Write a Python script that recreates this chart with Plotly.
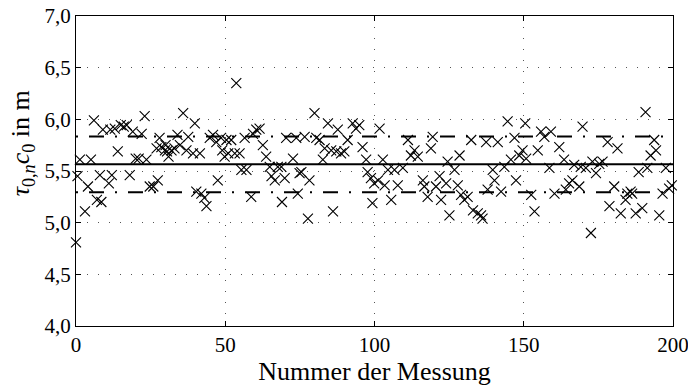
import plotly.graph_objects as go

meas_x = [0.0, 0.5, 1.3, 3.0, 4.0, 5.0, 6.0, 7.0, 8.0, 8.5, 9.0, 11.0, 11.5, 12.0, 13.0, 14.0,
          15.0, 16.0, 17.0, 18.0, 19.0, 20.0, 21.0, 22.0, 23.0, 23.6, 24.7,
          25.9, 27.0, 27.4, 28.0, 28.6, 29.8, 30.0, 30.5, 31.0, 32.0, 33.0, 34.0, 34.8, 35.9,
          37.0, 37.6, 39.2, 39.8, 40.3, 41.5, 42.0, 43.0, 43.7, 44.8, 45.9, 47.0, 47.5, 48.6,
          49.0, 49.8,
          50.4, 51.0, 52.0, 53.2, 53.7, 54.8, 55.4, 56.5, 57.1, 58.7, 59.3, 60.4, 61.5, 62.6,
          63.7, 64.9, 65.5, 66.6, 67.6, 68.8, 69.0, 69.9, 70.4, 72.7, 73.8, 74.3, 74.9,
          75.5, 76.6, 77.7, 78.2, 79.9, 80.5, 81.6, 82.7, 83.3, 84.4, 85.5, 86.1, 87.2, 87.7,
          88.8, 89.9, 91.0, 92.7, 93.8, 94.9, 96.0, 97.2, 97.7, 98.8, 99.3, 99.9,
          101.2, 101.7, 102.8, 103.4, 104.5, 105.6, 106.7, 107.8, 109.5, 111.2, 112.2, 113.4,
          114.5, 116.2, 116.7, 117.8, 118.9, 119.5, 120.6, 121.8, 122.3, 124.0, 124.5, 125.1,
          126.8, 127.9, 128.5, 129.0, 130.1, 131.2, 132.4, 133.0, 134.6, 135.7, 136.2, 137.4,
          137.9, 139.6, 140.2, 141.3, 142.4, 143.5, 144.6, 145.7, 146.9, 147.4, 148.5, 149.6,
          150.5, 150.8, 152.5, 153.6, 154.7, 155.8, 156.9, 158.6, 159.1, 160.3, 161.9, 163.5,
          164.1, 165.2, 166.3, 166.9, 168.6, 169.1, 169.7, 170.8, 172.5, 173.0, 174.2, 175.3,
          176.4, 178.1, 178.7, 180.3, 181.4, 182.5, 184.1, 184.7, 185.8, 186.3, 187.5, 188.5,
          189.7, 190.8, 191.4, 192.5, 193.7, 194.3, 195.4, 196.5, 197.6, 198.7, 199.6]
meas_y = [4.81, 5.45, 5.61, 5.11, 5.35, 5.61, 5.99, 5.22, 5.46, 5.20, 5.90, 5.38, 5.90, 5.46, 5.91, 5.69,
          5.945, 5.93, 5.945, 5.46, 5.88, 5.62, 5.62, 5.86, 6.03, 5.61, 5.35,
          5.35, 5.72, 5.41, 5.82, 5.73, 5.70, 5.75, 5.69, 5.64, 5.70, 5.72, 5.85, 5.75, 6.06,
          5.70, 5.83, 5.67, 5.96, 5.30, 5.67, 5.28, 5.24, 5.16, 5.82, 5.85, 5.78, 5.41, 5.82,
          5.70, 5.64,
          5.80, 5.67, 5.80, 5.67, 6.35, 5.67, 5.51, 5.82, 5.51, 5.25, 5.86, 5.90, 5.91, 5.75,
          5.64, 5.54, 5.45, 5.41, 5.54, 5.54, 5.20, 5.43, 5.82, 5.62, 5.82, 5.28, 5.48,
          5.49, 5.83, 5.04, 5.41, 6.06, 5.82, 5.80, 5.61, 5.72, 5.96, 5.70, 5.11, 5.69, 5.90,
          5.67, 5.69, 5.80, 5.96, 5.91, 5.945, 5.73, 5.61, 5.49, 5.43, 5.19, 5.38,
          5.41, 5.91, 5.61, 5.36, 5.51, 5.22, 5.51, 5.36, 5.53, 5.80, 5.65, 5.70,
          5.64, 5.41, 5.35, 5.25, 5.72, 5.83, 5.35, 5.45, 5.22, 5.38, 5.59, 5.07,
          5.51, 5.36, 5.65, 5.27, 5.22, 5.25, 5.80, 5.12, 5.09, 5.07, 5.04, 5.78,
          5.32, 5.51, 5.41, 5.78, 5.30, 5.54, 5.98, 5.61, 5.82, 5.41, 5.65, 5.70,
          5.96, 5.62, 5.27, 5.11, 5.70, 5.88, 5.83, 5.53, 5.88, 5.28, 5.73, 5.61,
          5.32, 5.38, 5.41, 5.56, 5.35, 5.54, 5.93, 5.53, 4.90, 5.59, 5.48, 5.57,
          5.59, 5.78, 5.16, 5.35, 5.72, 5.09, 5.22, 5.28, 5.30, 5.28, 5.09, 5.49,
          5.14, 6.07, 5.53, 5.65, 5.80, 5.70, 5.07, 5.28, 5.53, 5.33, 5.36]

mean_value = 5.565
upper_bound = 5.835
lower_bound = 5.295
line_x = [0, 200]

x_ticks = [0, 50, 100, 150, 200]
x_ticktext = ["0", "50", "100", "150", "200"]
y_ticks = [4.0, 4.5, 5.0, 5.5, 6.0, 6.5, 7.0]
y_ticktext = ["4,0", "4,5", "5,0", "5,5", "6,0", "6,5", "7,0"]

FONT = "Liberation Serif, DejaVu Serif, serif"

fig = go.Figure()
fig.add_trace(go.Scatter(
    x=meas_x, y=meas_y, mode="markers", cliponaxis=False,
    marker=dict(symbol="x-thin", size=10, line=dict(color="black", width=1.1)),
    showlegend=False))
fig.add_trace(go.Scatter(
    x=line_x, y=[mean_value, mean_value], mode="lines",
    line=dict(color="black", width=2), showlegend=False))
for b in (upper_bound, lower_bound):
    fig.add_trace(go.Scatter(
        x=line_x, y=[b, b], mode="lines",
        line=dict(color="black", width=2, dash="2px,11px,15px,11px"), showlegend=False))

axis_common = dict(
    showline=True, linecolor="black", linewidth=1, mirror="ticks",
    ticks="inside", ticklen=5, tickcolor="black", tickwidth=1,
    showgrid=True, gridcolor="#555555", gridwidth=1, griddash="1px,10px",
    zeroline=False, tickfont=dict(family=FONT, size=21, color="black"),
    ticklabeloverflow="allow", automargin=False,
)

fig.update_xaxes(range=[0, 200], tickvals=x_ticks, ticktext=x_ticktext,
                 title=dict(text="Nummer der Messung", font=dict(family=FONT, size=26, color="black"),
                            standoff=0),
                 **axis_common)
fig.update_yaxes(range=[4.0, 7.0], tickvals=y_ticks, ticktext=y_ticktext,
                 **axis_common)

fig.add_annotation(
    text="<i>τ</i><sub>0,<i>n</i></sub><i>c</i><sub>0</sub> in m",
    xref="paper", yref="paper", x=-0.09, y=0.59, textangle=-90,
    xanchor="center", yanchor="middle", showarrow=False,
    font=dict(family=FONT, size=26, color="black"))

fig.update_layout(
    width=688, height=387,
    margin=dict(l=76, r=15, t=16, b=61, autoexpand=False),
    paper_bgcolor="white", plot_bgcolor="white",
)

fig.write_html("out.html")
